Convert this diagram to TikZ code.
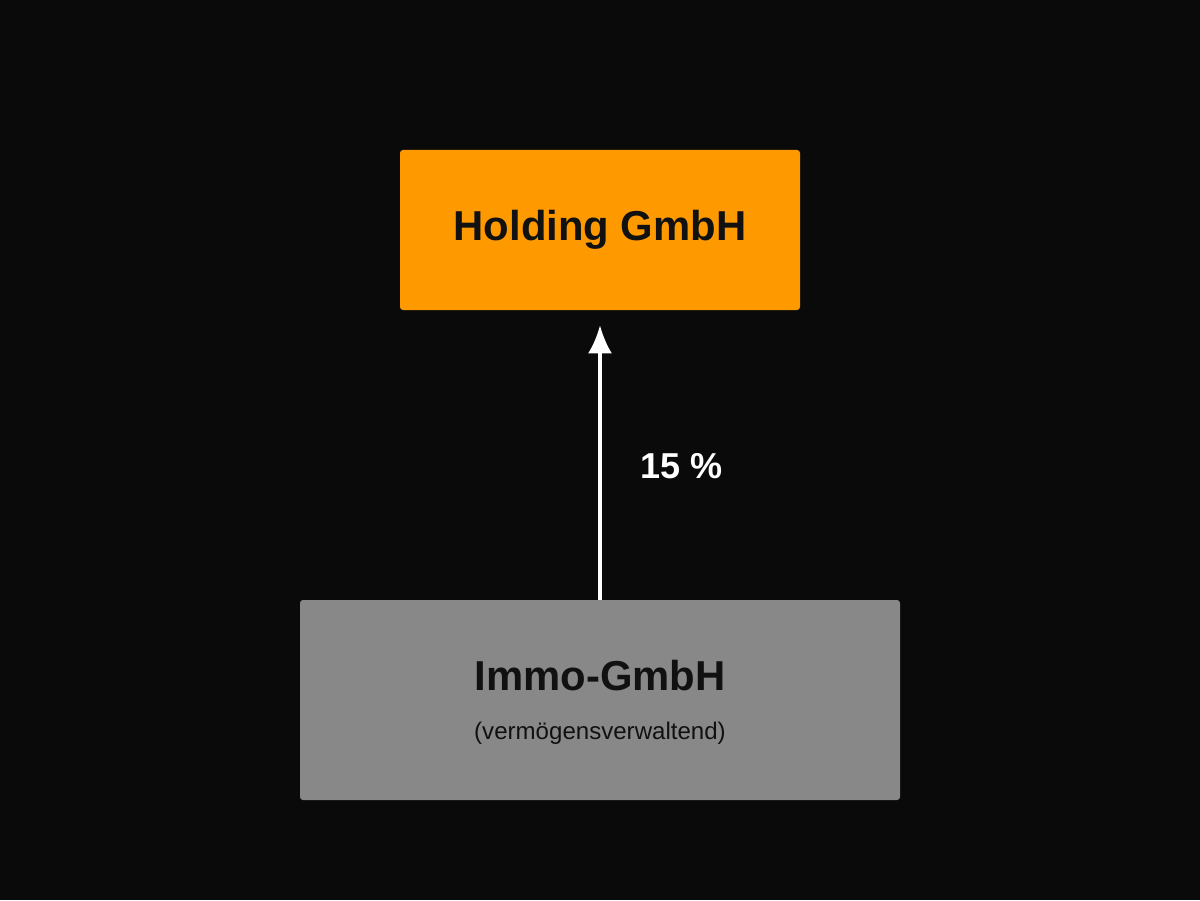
\documentclass[tikz,border=0pt]{standalone}
\usepackage{fontspec}
\setmainfont{Liberation Sans}
\usepackage{tikz}
\usetikzlibrary{arrows.meta,positioning}

\definecolor{bgdark}{HTML}{0A0A0A}
\definecolor{holdorange}{HTML}{FF9900}
\definecolor{immogray}{HTML}{888888}
\definecolor{inkdark}{HTML}{111111}

\begin{document}
\begin{tikzpicture}[>=Latex,
  entity/.style={rectangle,rounded corners=0.06cm,inner sep=0pt,text=inkdark},
  share/.style={white,line width=0.065cm,shorten >=0.3cm,arrows={-Latex[length=0.56cm,width=0.48cm]}}]
  % background and page size
  \fill[bgdark] (0,0) rectangle (24,18);
  \useasboundingbox (0,0) rectangle (24,18);
  % companies
  \node[entity,fill=holdorange,minimum width=8cm,minimum height=3.2cm,font=\bfseries\fontsize{23.8}{28}\selectfont] (holding) at (12,13.4) {Holding GmbH};
  \node[entity,fill=immogray,minimum width=12cm,minimum height=4cm] (immo) at (12,4) {};
  \node[anchor=base,text=inkdark,font=\bfseries\fontsize{23.8}{28}\selectfont] (immoname) at ([yshift=0.2cm]immo.center) {Immo-GmbH};
  \node[anchor=base,text=inkdark,font=\fontsize{13.7}{16}\selectfont] (immotype) at ([yshift=-0.78cm]immo.center) {(vermögensverwaltend)};
  % participation
  \draw[share] (immo.north) -- (holding.south);
  \node[anchor=base west,text=white,font=\bfseries\fontsize{20.5}{24}\selectfont] (quota) at (12.68,8.44) {15 \%};
\end{tikzpicture}
\end{document}
